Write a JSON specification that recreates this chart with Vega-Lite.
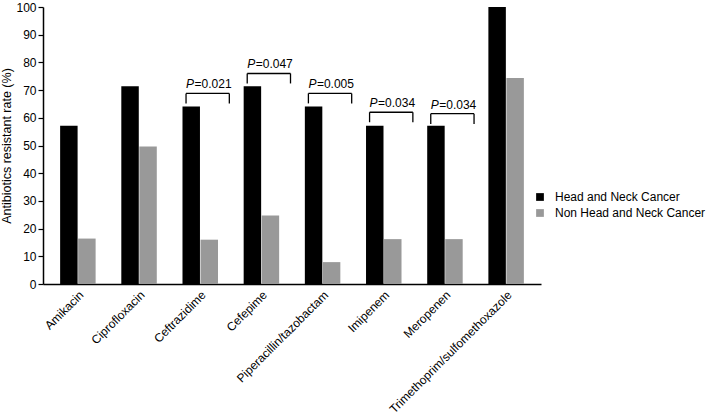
{
  "$schema": "https://vega.github.io/schema/vega-lite/v6.json",
  "width": 498,
  "height": 277,
  "autosize": "none",
  "padding": {"left": 43, "top": 7, "right": 168, "bottom": 134},
  "config": {
    "view": {"stroke": null},
    "font": "Liberation Sans"
  },
  "datasets": {
    "bars": [
      {"drug": "Amikacin", "group": "Head and Neck Cancer", "value": 57.1},
      {"drug": "Amikacin", "group": "Non Head and Neck Cancer", "value": 16.4},
      {"drug": "Ciprofloxacin", "group": "Head and Neck Cancer", "value": 71.4},
      {"drug": "Ciprofloxacin", "group": "Non Head and Neck Cancer", "value": 49.6},
      {"drug": "Ceftrazidime", "group": "Head and Neck Cancer", "value": 64.1},
      {"drug": "Ceftrazidime", "group": "Non Head and Neck Cancer", "value": 16.0},
      {"drug": "Cefepime", "group": "Head and Neck Cancer", "value": 71.4},
      {"drug": "Cefepime", "group": "Non Head and Neck Cancer", "value": 24.7},
      {"drug": "Piperacillin/tazobactam", "group": "Head and Neck Cancer", "value": 64.1},
      {"drug": "Piperacillin/tazobactam", "group": "Non Head and Neck Cancer", "value": 7.9},
      {"drug": "Imipenem", "group": "Head and Neck Cancer", "value": 57.1},
      {"drug": "Imipenem", "group": "Non Head and Neck Cancer", "value": 16.2},
      {"drug": "Meropenen", "group": "Head and Neck Cancer", "value": 57.1},
      {"drug": "Meropenen", "group": "Non Head and Neck Cancer", "value": 16.2},
      {"drug": "Trimethoprim/sulfomethoxazole", "group": "Head and Neck Cancer", "value": 100},
      {"drug": "Trimethoprim/sulfomethoxazole", "group": "Non Head and Neck Cancer", "value": 74.4}
    ],
    "brackets": [
      {"drug": "Ceftrazidime", "value": 68.8, "bottom": 65.2, "p": "=0.021"},
      {"drug": "Cefepime", "value": 76.0, "bottom": 72.4, "p": "=0.047"},
      {"drug": "Piperacillin/tazobactam", "value": 68.8, "bottom": 65.2, "p": "=0.005"},
      {"drug": "Imipenem", "value": 62.0, "bottom": 58.4, "p": "=0.034"},
      {"drug": "Meropenen", "value": 61.5, "bottom": 57.8, "p": "=0.034"}
    ]
  },
  "encoding": {
    "x": {
      "field": "drug", "type": "nominal",
      "scale": {
        "domain": ["Amikacin", "Ciprofloxacin", "Ceftrazidime", "Cefepime", "Piperacillin/tazobactam", "Imipenem", "Meropenen", "Trimethoprim/sulfomethoxazole"],
        "paddingInner": 0.42, "paddingOuter": 0.28
      },
      "axis": {
        "title": null, "labelAngle": -45, "labelFontSize": 12, "labelColor": "#000",
        "ticks": false, "labelPadding": 5, "domainColor": "#000", "domainWidth": 1.5,
        "labelLimit": 300
      }
    },
    "y": {
      "field": "value", "type": "quantitative",
      "scale": {"domain": [0, 100], "nice": false},
      "axis": {
        "title": "Antibiotics resistant rate (%)", "titleFontSize": 12.5, "titleFontWeight": "normal",
        "titleColor": "#000", "values": [0, 10, 20, 30, 40, 50, 60, 70, 80, 90, 100],
        "labelOverlap": false, "labelFontSize": 12, "labelColor": "#000", "grid": false,
        "domainColor": "#000", "domainWidth": 1.5, "tickColor": "#000", "tickWidth": 1.2,
        "tickSize": 5, "labelPadding": 2, "titlePadding": 2
      }
    }
  },
  "layer": [
    {
      "data": {"name": "bars"},
      "mark": {"type": "bar"},
      "encoding": {
        "xOffset": {"field": "group", "scale": {"domain": ["Head and Neck Cancer", "Non Head and Neck Cancer"], "paddingInner": 0.03}},
        "color": {
          "field": "group", "type": "nominal",
          "scale": {"domain": ["Head and Neck Cancer", "Non Head and Neck Cancer"], "range": ["#000000", "#999999"]},
          "legend": {
            "title": null, "orient": "none", "legendX": 491, "legendY": 184,
            "symbolType": "square", "symbolSize": 60, "labelFontSize": 12, "labelColor": "#000",
            "rowPadding": 4, "labelOffset": 9
          }
        }
      }
    },
    {
      "data": {"name": "brackets"},
      "mark": {"type": "rule", "color": "#000", "strokeWidth": 1.3},
      "encoding": {
        "x": {"field": "drug", "type": "nominal", "bandPosition": 0.1},
        "x2": {"field": "drug", "bandPosition": 1.32}
      }
    },
    {
      "data": {"name": "brackets"},
      "mark": {"type": "rule", "color": "#000", "strokeWidth": 1.3},
      "encoding": {
        "x": {"field": "drug", "type": "nominal", "bandPosition": 0.1},
        "y2": {"field": "bottom"}
      }
    },
    {
      "data": {"name": "brackets"},
      "mark": {"type": "rule", "color": "#000", "strokeWidth": 1.3},
      "encoding": {
        "x": {"field": "drug", "type": "nominal", "bandPosition": 1.32},
        "y2": {"field": "bottom"}
      }
    },
    {
      "data": {"name": "brackets"},
      "mark": {"type": "text", "text": "P", "fontStyle": "italic", "fontSize": 12, "align": "left", "baseline": "alphabetic", "dy": -5, "color": "#000"},
      "encoding": {
        "x": {"field": "drug", "type": "nominal", "bandPosition": 0.1}
      }
    },
    {
      "data": {"name": "brackets"},
      "mark": {"type": "text", "fontSize": 12, "align": "left", "baseline": "alphabetic", "dy": -5, "dx": 8.5, "color": "#000"},
      "encoding": {
        "x": {"field": "drug", "type": "nominal", "bandPosition": 0.1},
        "text": {"field": "p"}
      }
    }
  ]
}
